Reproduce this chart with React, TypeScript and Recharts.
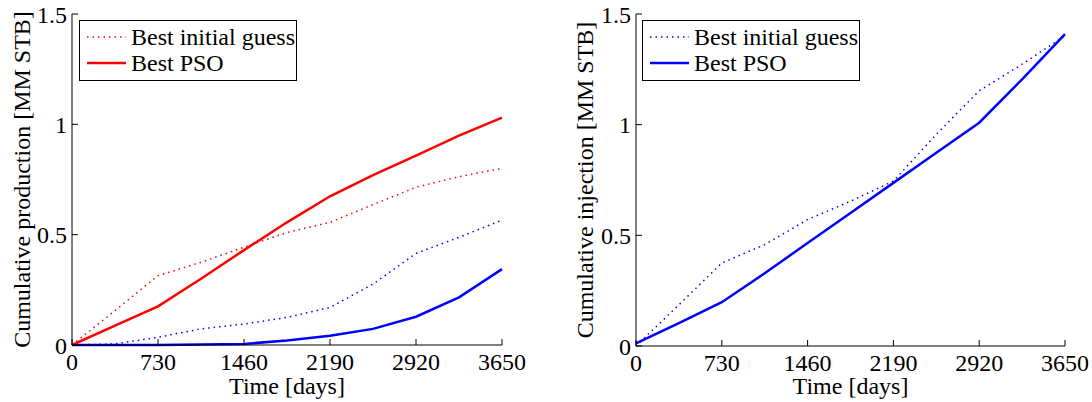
import React from "react";
import { LineChart, Line, XAxis, YAxis, Legend } from "recharts";

// time axis, sampled every 365 days
const days = [0, 365, 730, 1095, 1460, 1825, 2190, 2555, 2920, 3285, 3650];
const xTicks = [0, 730, 1460, 2190, 2920, 3650];
const yTicks = [0, 0.5, 1, 1.5];

// cumulative production [MM STB]
const prodGuessA = [0, 0.156, 0.314, 0.375, 0.443, 0.51, 0.556, 0.636, 0.715, 0.763, 0.8];
const prodPsoA = [0, 0.088, 0.175, 0.3, 0.43, 0.556, 0.674, 0.77, 0.858, 0.949, 1.03];
const prodGuessB = [0, 0.005, 0.035, 0.073, 0.095, 0.125, 0.17, 0.276, 0.415, 0.488, 0.566];
const prodPsoB = [0, 0, 0, 0.002, 0.005, 0.02, 0.042, 0.073, 0.128, 0.216, 0.344];

// cumulative injection [MM STB]
const injGuess = [0, 0.186, 0.375, 0.458, 0.571, 0.654, 0.745, 0.956, 1.153, 1.273, 1.402];
const injPso = [0.012, 0.103, 0.198, 0.329, 0.465, 0.601, 0.737, 0.873, 1.009, 1.205, 1.409];

const RED = "#ff0000";
const BLUE = "#0000ff";
const FONT = "'Liberation Serif', 'Times New Roman', Times, serif";
const TICK = 6;
const DOTS = "1.5 4";
const textStyle = { fontFamily: FONT, fontSize: 24 };

const prodData = days.map((d, i) => ({
  t: d,
  guessA: prodGuessA[i],
  psoA: prodPsoA[i],
  guessB: prodGuessB[i],
  psoB: prodPsoB[i],
}));

const injData = days.map((d, i) => ({ t: d, guess: injGuess[i], pso: injPso[i] }));

interface SeriesDef {
  key: string;
  name: string;
  color: string;
  dotted: boolean;
  legend: boolean;
}

const prodSeries: SeriesDef[] = [
  { key: "guessB", name: "guessB", color: BLUE, dotted: true, legend: false },
  { key: "psoB", name: "psoB", color: BLUE, dotted: false, legend: false },
  { key: "guessA", name: "Best initial guess", color: RED, dotted: true, legend: true },
  { key: "psoA", name: "Best PSO", color: RED, dotted: false, legend: true },
];

const injSeries: SeriesDef[] = [
  { key: "guess", name: "Best initial guess", color: BLUE, dotted: true, legend: true },
  { key: "pso", name: "Best PSO", color: BLUE, dotted: false, legend: true },
];

// ticks point into the plot box, labels sit outside
const BottomTick = (p: any) => (
  <g>
    <line x1={p.x} y1={p.y} x2={p.x} y2={p.y - TICK} stroke="#000" />
    <text x={p.x} y={p.y + 8} dy="0.71em" textAnchor="middle" fill="#000" style={textStyle}>
      {p.payload.value}
    </text>
  </g>
);

const LeftTick = (p: any) => (
  <g>
    <line x1={p.x} y1={p.y} x2={p.x + TICK} y2={p.y} stroke="#000" />
    <text x={p.x - 5} y={p.y} dy="0.355em" textAnchor="end" fill="#000" style={textStyle}>
      {p.payload.value}
    </text>
  </g>
);

const TopTick = (p: any) => <line x1={p.x} y1={p.y} x2={p.x} y2={p.y + TICK} stroke="#000" />;
const RightTick = (p: any) => <line x1={p.x} y1={p.y} x2={p.x - TICK} y2={p.y} stroke="#000" />;

function yTitle(offsetX: number) {
  return (props: any) => {
    const vb = props.viewBox;
    const cx = vb.x + offsetX;
    const cy = vb.y + vb.height / 2;
    return (
      <text
        x={cx}
        y={cy}
        transform={`rotate(-90 ${cx} ${cy})`}
        textAnchor="middle"
        dominantBaseline="central"
        fill="#000"
        style={textStyle}
      >
        {props.value}
      </text>
    );
  };
}

function xTitle(props: any) {
  const vb = props.viewBox;
  return (
    <text x={vb.x + vb.width / 2} y={vb.y + vb.height - 8} textAnchor="middle" fill="#000" style={textStyle}>
      {props.value}
    </text>
  );
}

function legendBox(series: SeriesDef[]) {
  return (props: any) => {
    const shown = new Set((props.payload || []).map((e: any) => e.dataKey));
    const items = series.filter((s) => s.legend && shown.has(s.key));
    return (
      <div
        style={{
          border: "1.3px solid #000",
          background: "#fff",
          width: 216,
          height: 56,
          boxSizing: "content-box",
          paddingTop: 3,
          fontFamily: FONT,
          fontSize: 24,
          color: "#000",
        }}
      >
        {items.map((s) => (
          <div key={s.key} style={{ display: "flex", alignItems: "center", height: 26 }}>
            <svg width={51} height={26}>
              <line
                x1={7}
                x2={46}
                y1={13}
                y2={13}
                stroke={s.color}
                strokeWidth={s.dotted ? 1.5 : 2.5}
                strokeDasharray={s.dotted ? DOTS : undefined}
              />
            </svg>
            <span style={{ lineHeight: "26px", whiteSpace: "nowrap", fontFamily: FONT }}>{s.name}</span>
          </div>
        ))}
      </div>
    );
  };
}

interface PanelProps {
  data: any[];
  series: SeriesDef[];
  width: number;
  rightMargin: number;
  yAxisWidth: number;
  xAxisHeight: number;
  title: string;
  titleX: number;
  legendLeft: number;
}

function Panel({ data, series, width, rightMargin, yAxisWidth, xAxisHeight, title, titleX, legendLeft }: PanelProps) {
  return (
    <LineChart
      width={width}
      height={402}
      data={data}
      margin={{ top: 14, right: rightMargin, bottom: 0, left: 0 }}
      style={{ fontFamily: FONT }}
    >
      <XAxis
        dataKey="t"
        type="number"
        domain={[0, 3650]}
        ticks={xTicks}
        interval={0}
        height={xAxisHeight}
        tickSize={0}
        tickMargin={0}
        tickLine={false}
        tick={<BottomTick />}
        axisLine={{ stroke: "#000" }}
        label={{ value: "Time [days]", content: xTitle }}
      />
      <XAxis
        xAxisId="top"
        orientation="top"
        type="number"
        domain={[0, 3650]}
        allowDataOverflow
        ticks={xTicks}
        interval={0}
        height={0}
        tickSize={0}
        tickMargin={0}
        tickLine={false}
        tick={<TopTick />}
        axisLine={{ stroke: "#000" }}
      />
      <YAxis
        type="number"
        domain={[0, 1.5]}
        ticks={yTicks}
        interval={0}
        width={yAxisWidth}
        tickSize={0}
        tickMargin={0}
        tickLine={false}
        tick={<LeftTick />}
        axisLine={{ stroke: "#000" }}
        label={{ value: title, content: yTitle(titleX) }}
      />
      <YAxis
        yAxisId="right"
        orientation="right"
        type="number"
        domain={[0, 1.5]}
        allowDataOverflow
        ticks={yTicks}
        interval={0}
        width={0}
        tickSize={0}
        tickMargin={0}
        tickLine={false}
        tick={<RightTick />}
        axisLine={{ stroke: "#000" }}
      />
      <Legend
        layout="horizontal"
        align="center"
        verticalAlign="middle"
        content={legendBox(series)}
        wrapperStyle={{ position: "absolute", left: legendLeft, top: 20, width: 220, height: 62 }}
      />
      {series.map((s) => (
        <Line
          key={s.key}
          dataKey={s.key}
          name={s.name}
          type="linear"
          stroke={s.color}
          strokeWidth={s.dotted ? 1.5 : 2.5}
          strokeDasharray={s.dotted ? DOTS : undefined}
          dot={false}
          activeDot={false}
          legendType={s.legend ? "line" : "none"}
          isAnimationActive={false}
        />
      ))}
    </LineChart>
  );
}

export default function App() {
  return (
    <div
      style={{
        position: "absolute",
        left: 0,
        top: 0,
        width: 1092,
        height: 402,
        background: "#fff",
        fontFamily: FONT,
      }}
    >
      <div style={{ position: "absolute", left: 0, top: 0 }}>
        <Panel
          data={prodData}
          series={prodSeries}
          width={540}
          rightMargin={38}
          yAxisWidth={72}
          xAxisHeight={57}
          title="Cumulative production [MM STB]"
          titleX={22}
          legendLeft={79}
        />
      </div>
      <div style={{ position: "absolute", left: 560, top: 0 }}>
        <Panel
          data={injData}
          series={injSeries}
          width={532}
          rightMargin={27}
          yAxisWidth={76}
          xAxisHeight={56}
          title="Cumulative injection [MM STB]"
          titleX={25}
          legendLeft={82}
        />
      </div>
    </div>
  );
}
